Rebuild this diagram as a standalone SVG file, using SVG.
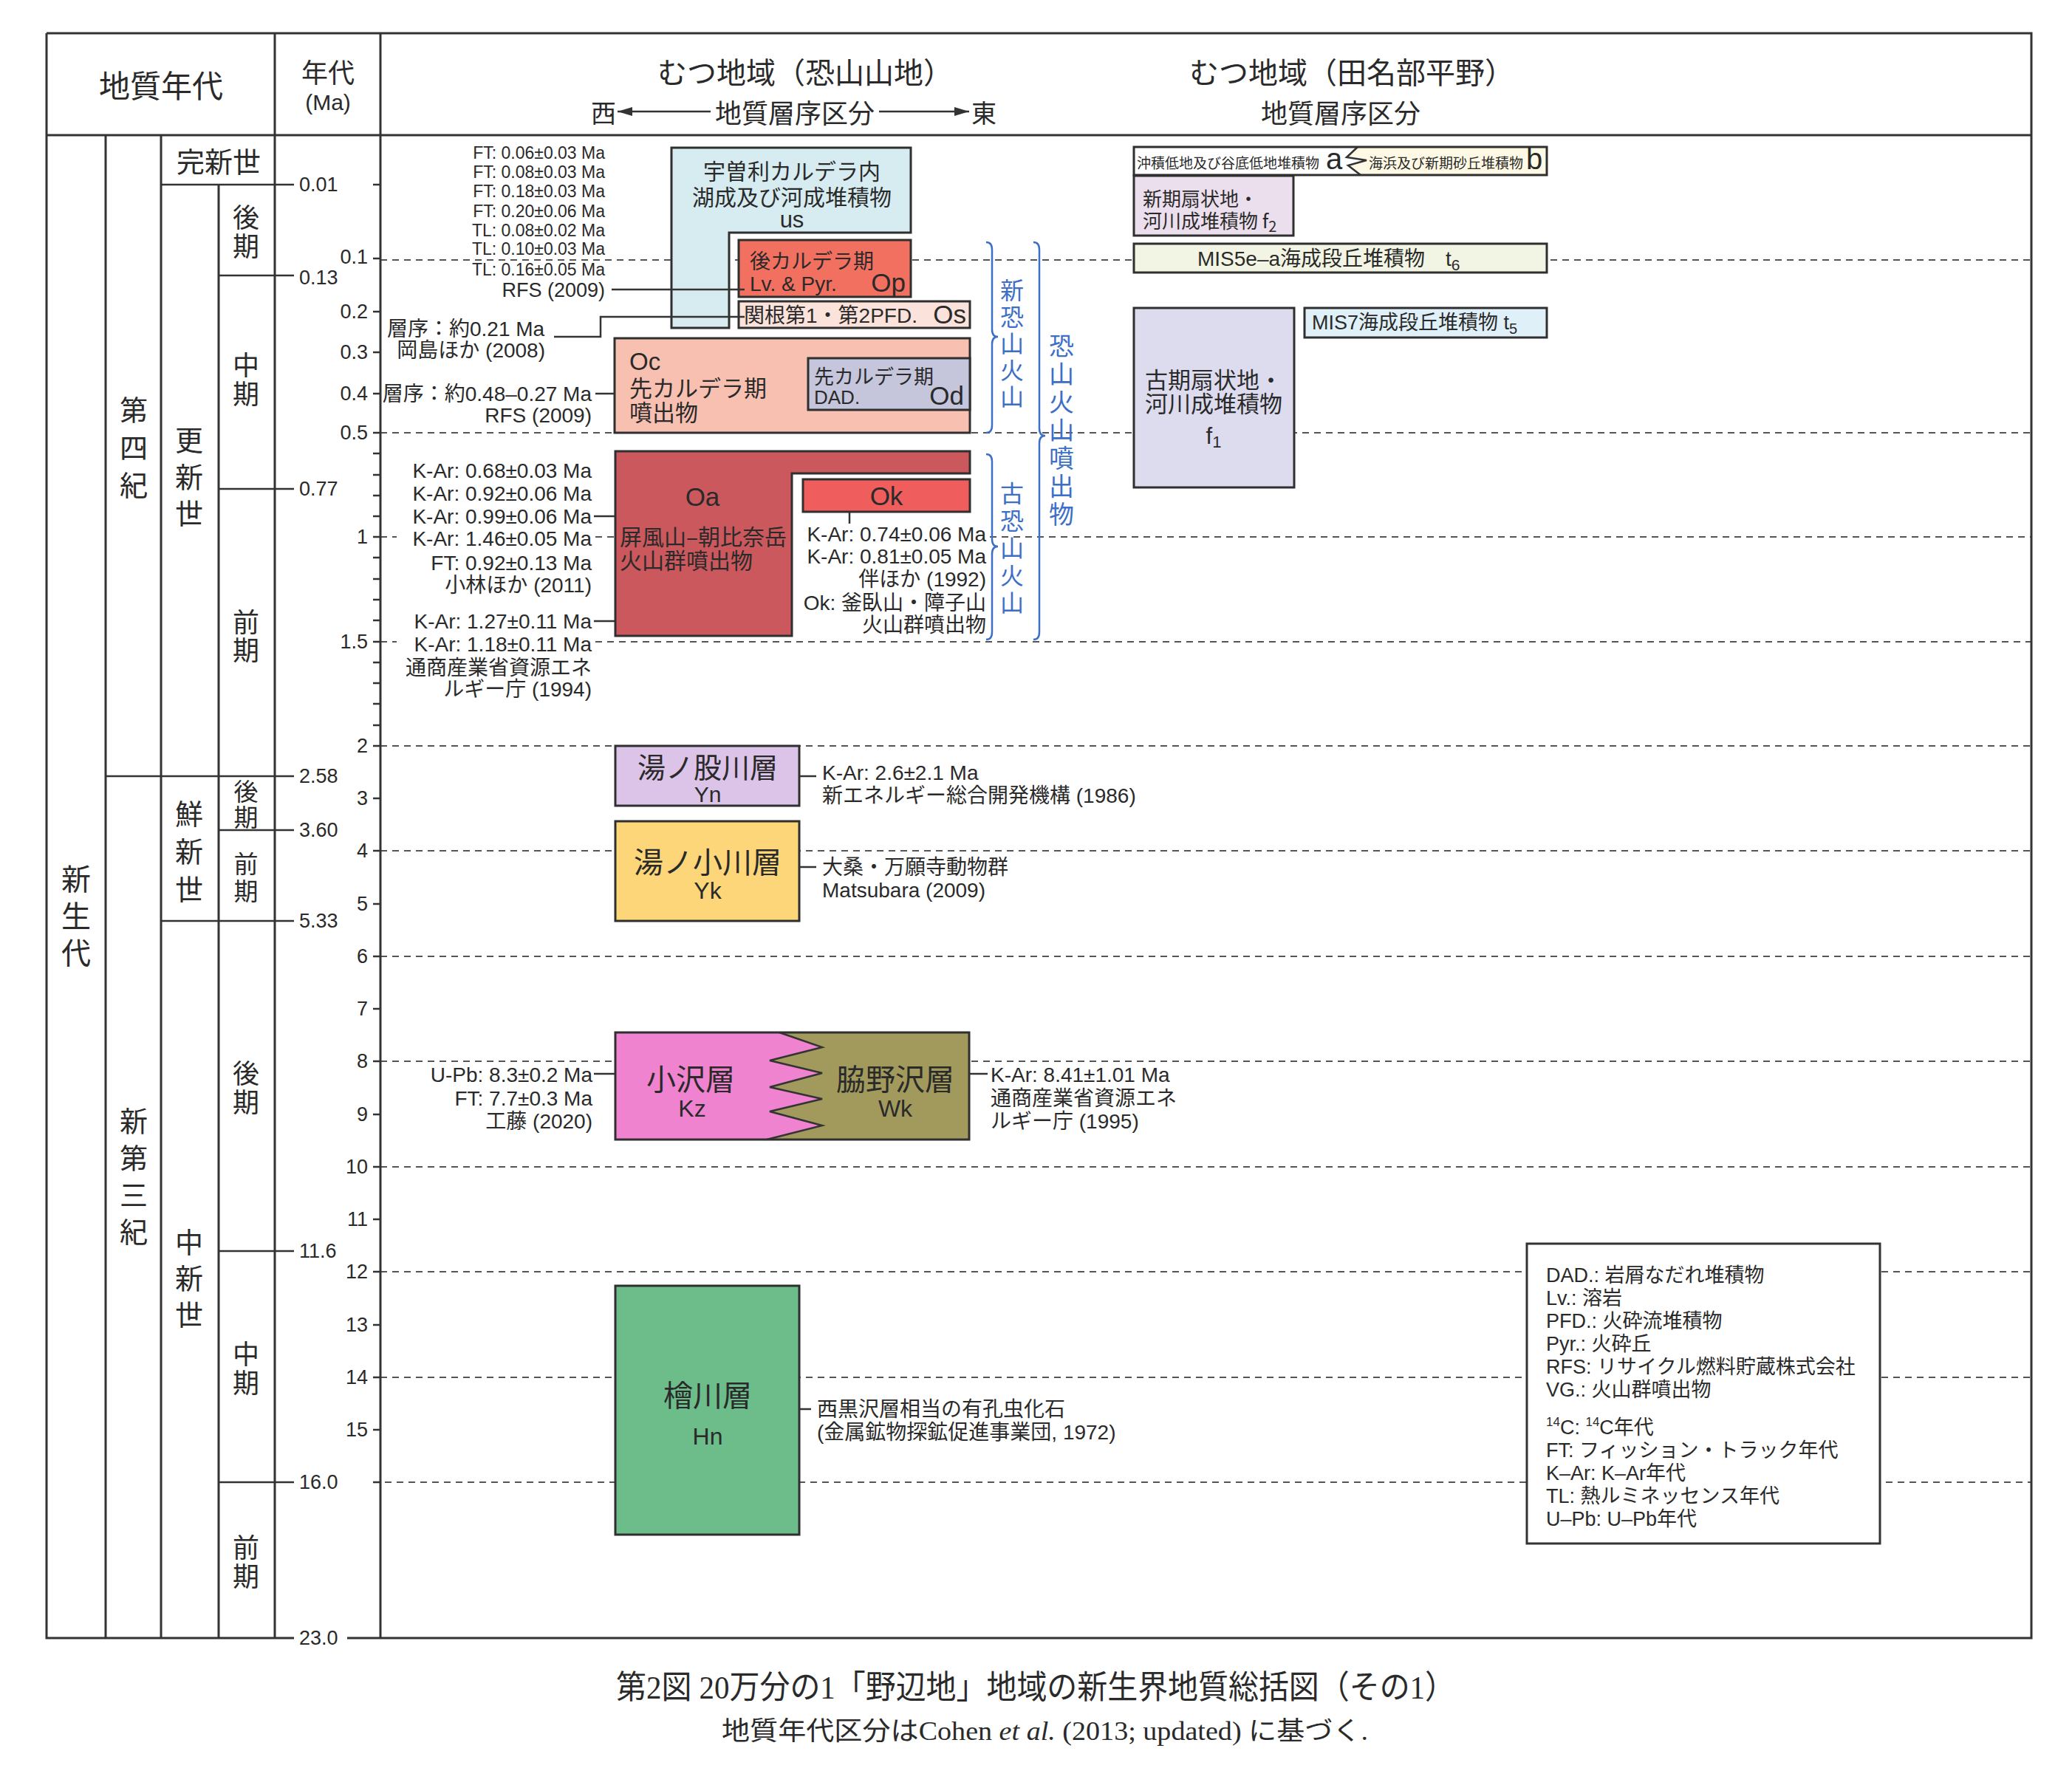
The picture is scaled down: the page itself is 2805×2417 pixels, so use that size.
<svg xmlns="http://www.w3.org/2000/svg" width="2805" height="2417" viewBox="0 0 2805 2417">
<defs>
<style>
.t{font-family:'Liberation Sans','Noto Sans CJK JP',sans-serif;fill:#2a2a2a;dominant-baseline:central}
.j{font-family:'Noto Sans CJK JP','Liberation Sans',sans-serif;fill:#2a2a2a;dominant-baseline:central}
.ser{font-family:'Liberation Serif','Noto Sans CJK JP',serif;fill:#2a2a2a;dominant-baseline:central}
.ann{stroke:#fff;stroke-width:6;paint-order:stroke;stroke-linejoin:round}
.box{stroke:#2f2f2f;stroke-width:3}
.frm{stroke:#333;stroke-width:3;fill:none}
.ln{stroke:#333;stroke-width:2.5;fill:none}
.dash{stroke:#555;stroke-width:2;stroke-dasharray:9 7;fill:none}
.blue{fill:#3d6fc6}
.brace{stroke:#3d6fc6;stroke-width:2.5;fill:none}
</style>
<marker id="ah" viewBox="0 0 10 10" refX="10" refY="5" markerWidth="20" markerHeight="20" orient="auto" markerUnits="userSpaceOnUse">
<path d="M0,2 L10,5 L0,8 Z" fill="#333"/>
</marker>
</defs>
<rect x="0" y="0" width="2805" height="2417" fill="#fff"/>

<!-- dashed grid lines -->
<g id="gridlines" class="dash">
<path d="M515,352H2750 M515,586H2750 M515,727H537 M806,727H1078 M1340,727H2750 M515,869H537 M806,869H2750 M515,1010H2750 M515,1152H2750 M515,1295H2750 M515,1437H2750 M515,1580H2750 M515,1722H2750 M515,1865H2750 M505,2007H2750"/>
</g>

<!-- frame -->
<g id="frame">
<path class="frm" d="M63,45H2750V2218H470 M398,2218H63V45"/>
<path class="frm" d="M63,183H2750"/>
<path class="frm" d="M372,45V2218 M515,45V2218 M143,183V2218 M218,183V2218 M296,250V2218"/>
<path class="ln" d="M218,250H398 M296,373H398 M296,662H398 M143,1051H398 M296,1124H398 M218,1247H398 M296,1694H398 M296,2007H398"/>
<path class="ln" d="M505,250H515 M505,350H515 M505,422H515 M505,477H515 M505,533H515 M505,586H515 M505,614H515 M505,643H515 M505,671H515 M505,699H515 M505,727H515 M505,755H515 M505,784H515 M505,812H515 M505,840H515 M505,869H515 M505,897H515 M505,925H515 M505,953H515 M505,982H515 M505,1010H515 M505,1081H515 M505,1152H515 M505,1224H515 M505,1295H515 M505,1366H515 M505,1437H515 M505,1509H515 M505,1580H515 M505,1651H515 M505,1722H515 M505,1794H515 M505,1865H515 M505,1936H515 M505,2007H515"/>
</g>

<!-- header -->
<g id="header">
<text class="j" x="218" y="113" font-size="42" text-anchor="middle">地質年代</text>
<text class="j" x="444" y="96" font-size="36" text-anchor="middle">年代</text>
<text class="t" x="444" y="138" font-size="30" text-anchor="middle">(Ma)</text>
<text class="j" x="1090" y="96" font-size="40" text-anchor="middle">むつ地域（恐山山地）</text>
<text class="j" x="817" y="151" font-size="34" text-anchor="middle">西</text>
<line class="ln" x1="962" y1="151" x2="836" y2="151" marker-end="url(#ah)"/>
<text class="j" x="1076" y="151" font-size="36" text-anchor="middle">地質層序区分</text>
<line class="ln" x1="1190" y1="151" x2="1312" y2="151" marker-end="url(#ah)"/>
<text class="j" x="1332" y="151" font-size="34" text-anchor="middle">東</text>
<text class="j" x="1830" y="96" font-size="40" text-anchor="middle">むつ地域（田名部平野）</text>
<text class="j" x="1815" y="151" font-size="36" text-anchor="middle">地質層序区分</text>
</g>

<!-- geologic time columns -->
<g id="timescale">
<text class="j" font-size="40" text-anchor="middle"><tspan x="103" y="1188">新</tspan><tspan x="103" y="1238">生</tspan><tspan x="103" y="1288">代</tspan></text>
<text class="j" font-size="38" text-anchor="middle"><tspan x="181" y="552">第</tspan><tspan x="181" y="603">四</tspan><tspan x="181" y="654">紀</tspan></text>
<text class="j" font-size="38" text-anchor="middle"><tspan x="181" y="1515">新</tspan><tspan x="181" y="1565">第</tspan><tspan x="181" y="1615">三</tspan><tspan x="181" y="1665">紀</tspan></text>
<text class="j" x="296" y="216" font-size="38" text-anchor="middle">完新世</text>
<text class="j" font-size="38" text-anchor="middle"><tspan x="256" y="593">更</tspan><tspan x="256" y="643">新</tspan><tspan x="256" y="692">世</tspan></text>
<text class="j" font-size="38" text-anchor="middle"><tspan x="256" y="1099">鮮</tspan><tspan x="256" y="1150">新</tspan><tspan x="256" y="1201">世</tspan></text>
<text class="j" font-size="38" text-anchor="middle"><tspan x="256" y="1679">中</tspan><tspan x="256" y="1728">新</tspan><tspan x="256" y="1777">世</tspan></text>
<text class="j" font-size="36" text-anchor="middle"><tspan x="333" y="292">後</tspan><tspan x="333" y="331">期</tspan></text>
<text class="j" font-size="36" text-anchor="middle"><tspan x="333" y="492">中</tspan><tspan x="333" y="531">期</tspan></text>
<text class="j" font-size="36" text-anchor="middle"><tspan x="333" y="840">前</tspan><tspan x="333" y="878">期</tspan></text>
<text class="j" font-size="33" text-anchor="middle"><tspan x="333" y="1070">後</tspan><tspan x="333" y="1105">期</tspan></text>
<text class="j" font-size="33" text-anchor="middle"><tspan x="333" y="1168">前</tspan><tspan x="333" y="1205">期</tspan></text>
<text class="j" font-size="36" text-anchor="middle"><tspan x="333" y="1451">後</tspan><tspan x="333" y="1490">期</tspan></text>
<text class="j" font-size="36" text-anchor="middle"><tspan x="333" y="1831">中</tspan><tspan x="333" y="1870">期</tspan></text>
<text class="j" font-size="36" text-anchor="middle"><tspan x="333" y="2093">前</tspan><tspan x="333" y="2132">期</tspan></text>
<g font-size="27">
<text class="t" x="405" y="250">0.01</text>
<text class="t" x="405" y="376">0.13</text>
<text class="t" x="405" y="662">0.77</text>
<text class="t" x="405" y="1051">2.58</text>
<text class="t" x="405" y="1124">3.60</text>
<text class="t" x="405" y="1247">5.33</text>
<text class="t" x="405" y="1694">11.6</text>
<text class="t" x="405" y="2007">16.0</text>
<text class="t" x="405" y="2218">23.0</text>
</g>
<g font-size="27" text-anchor="end">
<text class="t" x="498" y="348">0.1</text>
<text class="t" x="498" y="422">0.2</text>
<text class="t" x="498" y="477">0.3</text>
<text class="t" x="498" y="533">0.4</text>
<text class="t" x="498" y="586">0.5</text>
<text class="t" x="498" y="727">1</text>
<text class="t" x="498" y="869">1.5</text>
<text class="t" x="498" y="1010">2</text>
<text class="t" x="498" y="1081">3</text>
<text class="t" x="498" y="1152">4</text>
<text class="t" x="498" y="1224">5</text>
<text class="t" x="498" y="1295">6</text>
<text class="t" x="498" y="1366">7</text>
<text class="t" x="498" y="1437">8</text>
<text class="t" x="498" y="1509">9</text>
<text class="t" x="498" y="1580">10</text>
<text class="t" x="498" y="1651">11</text>
<text class="t" x="498" y="1722">12</text>
<text class="t" x="498" y="1794">13</text>
<text class="t" x="498" y="1865">14</text>
<text class="t" x="498" y="1936">15</text>
</g>
</g>

<!-- Osorezan units -->
<g id="node-us">
<path class="box" fill="#d6ecf0" d="M909,200H1233V315H987V444H909Z"/>
<text class="j" x="1072" y="230" font-size="30" text-anchor="middle">宇曽利カルデラ内</text>
<text class="j" x="1072" y="265" font-size="30" text-anchor="middle">湖成及び河成堆積物</text>
<text class="t" x="1072" y="297" font-size="31" text-anchor="middle">us</text>
</g>
<g id="node-Op">
<rect class="box" x="1000" y="325" width="233" height="77" fill="#f2705f"/>
<text class="j" x="1015" y="352" font-size="28">後カルデラ期</text>
<text class="t" x="1015" y="384" font-size="28">Lv. &amp; Pyr.</text>
<text class="t" x="1226" y="382" font-size="35" text-anchor="end">Op</text>
</g>
<g id="node-Os">
<rect class="box" x="1000" y="408" width="313" height="36" fill="#fbe2da"/>
<text class="t" x="1007" y="427" font-size="28">関根第1・第2PFD.</text>
<text class="t" x="1308" y="425" font-size="35" text-anchor="end">Os</text>
</g>
<g id="node-Oc">
<rect class="box" x="832" y="458" width="481" height="128" fill="#f8c0b1"/>
<text class="t" x="852" y="489" font-size="33">Oc</text>
<text class="j" x="852" y="523" font-size="31">先カルデラ期</text>
<text class="j" x="852" y="556" font-size="31">噴出物</text>
</g>
<g id="node-Od">
<rect class="box" x="1094" y="485" width="219" height="70" fill="#c5c5dc"/>
<text class="j" x="1102" y="508" font-size="27">先カルデラ期</text>
<text class="t" x="1102" y="538" font-size="26">DAD.</text>
<text class="t" x="1305" y="535" font-size="35" text-anchor="end">Od</text>
</g>
<g id="node-Oa">
<path class="box" fill="#ca585d" d="M833,611H1313V641H1072V861H833Z"/>
<text class="t" x="951" y="672" font-size="35" text-anchor="middle">Oa</text>
<text class="j" x="839" y="725" font-size="30">屏風山–朝比奈岳</text>
<text class="j" x="839" y="757" font-size="30">火山群噴出物</text>
</g>
<g id="node-Ok">
<rect class="box" x="1087" y="649" width="226" height="44" fill="#ef5d5d"/>
<text class="t" x="1200" y="671" font-size="35" text-anchor="middle">Ok</text>
</g>

<!-- Neogene units -->
<g id="node-Yn">
<rect class="box" x="833" y="1010" width="249" height="81" fill="#dcc3e8"/>
<text class="j" x="958" y="1036" font-size="38" text-anchor="middle">湯ノ股川層</text>
<text class="t" x="958" y="1075" font-size="30" text-anchor="middle">Yn</text>
</g>
<g id="node-Yk">
<rect class="box" x="833" y="1112" width="249" height="135" fill="#fcd679"/>
<text class="j" x="958" y="1165" font-size="40" text-anchor="middle">湯ノ小川層</text>
<text class="t" x="958" y="1206" font-size="32" text-anchor="middle">Yk</text>
</g>
<g id="node-Kz">
<path fill="#f083cf" d="M833,1398H1055L1113,1418L1042,1436L1113,1453L1042,1472L1113,1488L1042,1505L1113,1524L1038,1543H833Z"/>
<text class="j" x="935" y="1459" font-size="40" text-anchor="middle">小沢層</text>
<text class="t" x="937" y="1501" font-size="32" text-anchor="middle">Kz</text>
</g>
<g id="node-Wk">
<path fill="#a19a5c" d="M1055,1398H1312V1543H1038L1113,1524L1042,1505L1113,1488L1042,1472L1113,1453L1042,1436L1113,1418Z"/>
<text class="j" x="1212" y="1459" font-size="40" text-anchor="middle">脇野沢層</text>
<text class="t" x="1212" y="1501" font-size="32" text-anchor="middle">Wk</text>
<path class="ln" d="M1055,1398L1113,1418L1042,1436L1113,1453L1042,1472L1113,1488L1042,1505L1113,1524L1038,1543"/>
<rect class="box" x="833" y="1398" width="479" height="145" fill="none"/>
</g>
<g id="node-Hn">
<rect class="box" x="833" y="1741" width="249" height="337" fill="#6cbd8a"/>
<text class="j" x="958" y="1887" font-size="40" text-anchor="middle">檜川層</text>
<text class="t" x="958" y="1945" font-size="32" text-anchor="middle">Hn</text>
</g>

<!-- Tanabu plain units -->
<g id="node-ab">
<rect x="1535" y="199" width="559" height="38" fill="#fff"/>
<path fill="#fdf9e4" d="M1838,199H2094V237H1842L1825,224L1850,217L1823,213Z"/>
<path class="ln" d="M1838,199L1823,213L1850,217L1825,224L1842,237"/>
<rect class="box" x="1535" y="199" width="559" height="38" fill="none"/>
<text class="j" x="1539" y="219" font-size="19">沖積低地及び谷底低地堆積物</text>
<text class="t" x="1795" y="215" font-size="40">a</text>
<text class="j" x="1853" y="219" font-size="19">海浜及び新期砂丘堆積物</text>
<text class="t" x="2066" y="215" font-size="40">b</text>
</g>
<g id="node-f2">
<rect class="box" x="1535" y="238" width="216" height="81" fill="#ecdfed"/>
<text class="j" x="1547" y="267" font-size="26">新期扇状地・</text>
<text class="j" x="1547" y="297" font-size="26">河川成堆積物 f<tspan font-size="20" dy="8">2</tspan></text>
</g>
<g id="node-t6">
<rect class="box" x="1535" y="330" width="559" height="39" fill="#f2f5e3"/>
<text class="t" x="1621" y="350" font-size="28">MIS5e–a海成段丘堆積物　t<tspan font-size="21" dy="8">6</tspan></text>
</g>
<g id="node-f1">
<rect class="box" x="1535" y="417" width="217" height="243" fill="#dcdcee"/>
<text class="j" x="1643" y="512" font-size="31" text-anchor="middle">古期扇状地・</text>
<text class="j" x="1643" y="544" font-size="31" text-anchor="middle">河川成堆積物</text>
<text class="t" x="1643" y="590" font-size="31" text-anchor="middle">f<tspan font-size="22" dy="8">1</tspan></text>
</g>
<g id="node-t5">
<rect class="box" x="1766" y="417" width="328" height="40" fill="#dff0f8"/>
<text class="t" x="1776" y="437" font-size="27">MIS7海成段丘堆積物 t<tspan font-size="20" dy="8">5</tspan></text>
</g>

<!-- braces -->
<g id="group-shin-osorezan">
<path class="brace" d="M1335,328Q1343,328 1343,338L1343,446Q1343,456 1351,456Q1343,456 1343,466L1343,576Q1343,586 1335,586"/>
<text class="j blue" font-size="32" text-anchor="middle"><tspan x="1370" y="391">新</tspan><tspan x="1370" y="427">恐</tspan><tspan x="1370" y="463">山</tspan><tspan x="1370" y="499">火</tspan><tspan x="1370" y="535">山</tspan></text>
</g>
<g id="group-ko-osorezan">
<path class="brace" d="M1335,615Q1343,615 1343,625L1343,730Q1343,740 1351,740Q1343,740 1343,750L1343,856Q1343,866 1335,866"/>
<text class="j blue" font-size="32" text-anchor="middle"><tspan x="1370" y="666">古</tspan><tspan x="1370" y="703">恐</tspan><tspan x="1370" y="740">山</tspan><tspan x="1370" y="777">火</tspan><tspan x="1370" y="814">山</tspan></text>
</g>
<g id="group-osorezan">
<path class="brace" d="M1399,328Q1407,328 1407,338L1407,580Q1407,590 1415,590Q1407,590 1407,600L1407,856Q1407,866 1399,866"/>
<text class="j blue" font-size="34" text-anchor="middle"><tspan x="1437" y="466">恐</tspan><tspan x="1437" y="504">山</tspan><tspan x="1437" y="542">火</tspan><tspan x="1437" y="580">山</tspan><tspan x="1437" y="618">噴</tspan><tspan x="1437" y="656">出</tspan><tspan x="1437" y="694">物</tspan></text>
</g>

<!-- connectors -->
<g id="connectors" class="ln">
<path d="M828,392H1008"/>
<path d="M750,456H813V429H1008"/>
<path d="M806,533H832"/>
<path d="M804,699H833"/>
<path d="M804,841H833"/>
<path d="M1150,693V709"/>
<path d="M1082,1051H1105"/>
<path d="M1082,1174H1105"/>
<path d="M804,1454H833"/>
<path d="M1312,1454H1337"/>
<path d="M1082,1908H1098"/>
</g>

<!-- annotations -->
<g id="annotations">
<g font-size="23" text-anchor="end">
<text class="t" x="819" y="207">FT: 0.06±0.03 Ma</text>
<text class="t" x="819" y="233">FT: 0.08±0.03 Ma</text>
<text class="t" x="819" y="259">FT: 0.18±0.03 Ma</text>
<text class="t" x="819" y="286">FT: 0.20±0.06 Ma</text>
<text class="t" x="819" y="312">TL: 0.08±0.02 Ma</text>
<text class="t" x="819" y="337">TL: 0.10±0.03 Ma</text>
<text class="t ann" x="819" y="365">TL: 0.16±0.05 Ma</text>
</g>
<g font-size="28">
<text class="t" x="819" y="393" font-size="27" text-anchor="end">RFS (2009)</text>
<text class="t" x="524" y="445">層序：約0.21 Ma</text>
<text class="t" x="738" y="474" text-anchor="end">岡島ほか (2008)</text>
<text class="t" x="801" y="533" text-anchor="end">層序：約0.48–0.27 Ma</text>
<text class="t" x="801" y="562" text-anchor="end">RFS (2009)</text>
</g>
<g font-size="28" text-anchor="end">
<text class="t" x="801" y="637">K-Ar: 0.68±0.03 Ma</text>
<text class="t" x="801" y="668">K-Ar: 0.92±0.06 Ma</text>
<text class="t" x="801" y="699">K-Ar: 0.99±0.06 Ma</text>
<text class="t" x="801" y="729">K-Ar: 1.46±0.05 Ma</text>
<text class="t" x="801" y="762">FT: 0.92±0.13 Ma</text>
<text class="t" x="801" y="792">小林ほか (2011)</text>
<text class="t" x="801" y="841">K-Ar: 1.27±0.11 Ma</text>
<text class="t" x="801" y="872">K-Ar: 1.18±0.11 Ma</text>
<text class="t" x="801" y="904">通商産業省資源エネ</text>
<text class="t" x="801" y="933">ルギー庁 (1994)</text>
<text class="t" x="1335" y="723">K-Ar: 0.74±0.06 Ma</text>
<text class="t" x="1335" y="753">K-Ar: 0.81±0.05 Ma</text>
<text class="t" x="1335" y="784">伴ほか (1992)</text>
<text class="t" x="1335" y="816">Ok: 釜臥山・障子山</text>
<text class="t" x="1335" y="846">火山群噴出物</text>
<text class="t" x="802" y="1455">U-Pb: 8.3±0.2 Ma</text>
<text class="t" x="802" y="1487">FT: 7.7±0.3 Ma</text>
<text class="t" x="802" y="1518">工藤 (2020)</text>
</g>
<g font-size="28">
<text class="t" x="1113" y="1046">K-Ar: 2.6±2.1 Ma</text>
<text class="t" x="1113" y="1077">新エネルギー総合開発機構 (1986)</text>
<text class="t" x="1113" y="1174">大桑・万願寺動物群</text>
<text class="t" x="1113" y="1205">Matsubara (2009)</text>
<text class="t" x="1341" y="1455">K-Ar: 8.41±1.01 Ma</text>
<text class="t" x="1341" y="1487">通商産業省資源エネ</text>
<text class="t" x="1341" y="1518">ルギー庁 (1995)</text>
<text class="t" x="1106" y="1908">西黒沢層相当の有孔虫化石</text>
<text class="t" x="1106" y="1939">(金属鉱物探鉱促進事業団, 1972)</text>
</g>
</g>

<!-- legend -->
<g id="legend">
<rect x="2067" y="1684" width="478" height="406" fill="#fff" stroke="#333" stroke-width="3"/>
<g font-size="27">
<text class="t" x="2093" y="1727">DAD.: 岩屑なだれ堆積物</text>
<text class="t" x="2093" y="1758">Lv.: 溶岩</text>
<text class="t" x="2093" y="1789">PFD.: 火砕流堆積物</text>
<text class="t" x="2093" y="1820">Pyr.: 火砕丘</text>
<text class="t" x="2093" y="1851">RFS: リサイクル燃料貯蔵株式会社</text>
<text class="t" x="2093" y="1882">VG.: 火山群噴出物</text>
<text class="t" x="2093" y="1933"><tspan font-size="17" dy="-8">14</tspan><tspan dy="8">C: </tspan><tspan font-size="17" dy="-8">14</tspan><tspan dy="8">C年代</tspan></text>
<text class="t" x="2093" y="1964">FT: フィッション・トラック年代</text>
<text class="t" x="2093" y="1995">K–Ar: K–Ar年代</text>
<text class="t" x="2093" y="2026">TL: 熱ルミネッセンス年代</text>
<text class="t" x="2093" y="2057">U–Pb: U–Pb年代</text>
</g>
</g>

<!-- caption -->
<g id="caption">
<text class="ser" x="834" y="2285" font-size="44" textLength="1136" lengthAdjust="spacingAndGlyphs">第2図 20万分の1「野辺地」地域の新生界地質総括図（その1）</text>
<text class="ser" x="977" y="2344" font-size="35" textLength="875" lengthAdjust="spacingAndGlyphs">地質年代区分はCohen <tspan font-style="italic">et al.</tspan> (2013; updated) に基づく.</text>
</g>
</svg>
